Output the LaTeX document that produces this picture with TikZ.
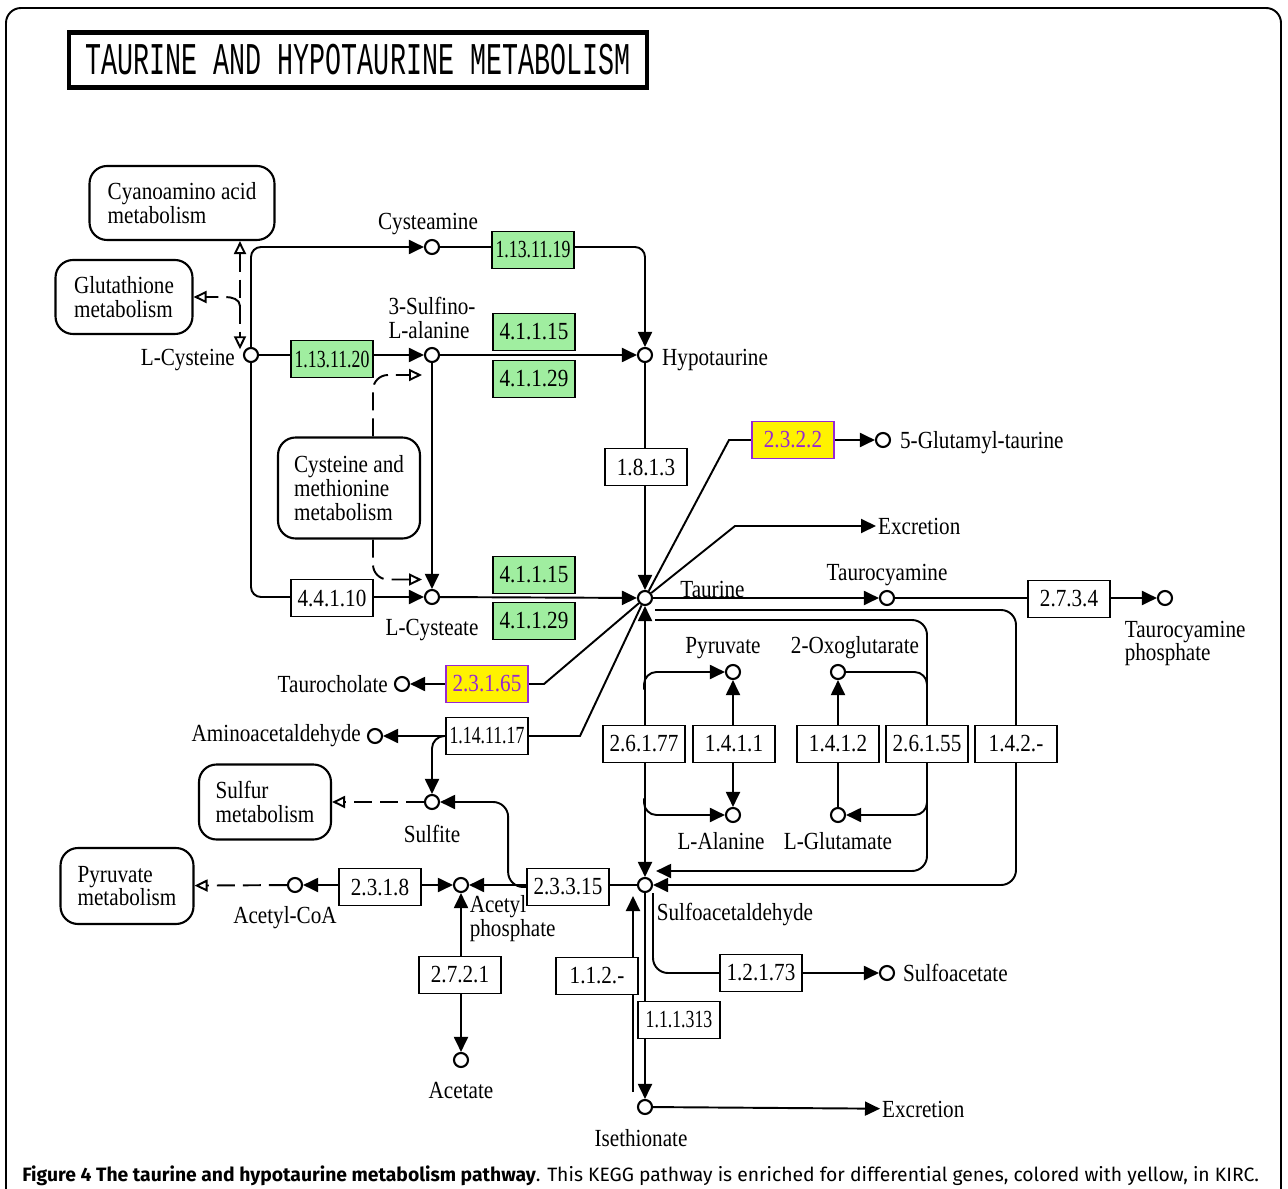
\documentclass[tikz,border=0pt]{standalone}
\usepackage{fontspec}
\setmainfont{Liberation Serif}[FakeStretch=0.86]
\newfontfamily\capfont{Fira Sans}
\newfontfamily\ttlfont{Liberation Mono}
\usetikzlibrary{positioning,arrows.meta}
\pgfdeclarelayer{bg}
\pgfsetlayers{bg,main}
\definecolor{keggreen}{RGB}{160,238,160}
\definecolor{hitpurple}{RGB}{150,40,210}
\newcommand{\ecsq}[1]{\scalebox{0.84}[1]{#1}}

\tikzset{
  otip/.tip={Triangle[open,length=0.26cm,width=0.24cm]},
  >={Triangle[length=0.3cm,width=0.28cm]},
  cpd/.style={circle,draw,line width=1.2pt,fill=white,minimum size=0.28cm,inner sep=0pt},
  enz/.style={draw,line width=1pt,fill=white,minimum width=1.64cm,minimum height=0.74cm,inner sep=0pt,font=\fontsize{14}{14}\selectfont},
  known/.style={enz,fill=keggreen},
  hit/.style={enz,fill=yellow,draw=hitpurple,text=hitpurple},
  pmap/.style={draw,line width=1.2pt,rounded corners=0.35cm,fill=white,align=left,font=\fontsize{14}{13.5}\selectfont},
  lbl/.style={inner sep=1pt,font=\fontsize{14}{13.5}\selectfont},
  rxn/.style={line width=1.1pt},
  mlink/.style={line width=1.1pt,dash pattern=on 0.36cm off 0.16cm,-otip},
}

\begin{document}
\begin{tikzpicture}[x=0.02cm,y=-0.02cm]
  \useasboundingbox (0,0) rectangle (1288,1189);
  % frame and title
  \draw[line width=1.1pt,rounded corners=0.3cm] (6,1189) -- (6,8) -- (1281,8) -- (1281,1189);
  \node[draw,line width=2.4pt,minimum width=11.55cm,minimum height=1.1cm] (title) at (358,60)
    {\scalebox{1}[1.7]{\ttlfont\fontsize{15.2}{16}\selectfont TAURINE AND HYPOTAURINE METABOLISM}};

  % Define compounds
  \node[cpd] (cysm)    at (432,247)  {};
  \node[cpd] (lcys)    at (251,355)  {};
  \node[cpd] (sulf)    at (432,355)  {};
  \node[cpd] (hypo)    at (645,355)  {};
  \node[cpd] (lcya)    at (432,597)  {};
  \node[cpd] (taur)    at (645,598)  {};
  \node[cpd] (glut5)   at (883,440)  {};
  \node[cpd] (tcym)    at (887,598)  {};
  \node[cpd] (tcymp)   at (1165,598) {};
  \node[cpd] (tchol)   at (402,684)  {};
  \node[cpd] (amald)   at (375,736)  {};
  \node[cpd] (sulfite) at (432,802)  {};
  \node[cpd] (pyr)     at (733,672)  {};
  \node[cpd] (oxog)    at (838,672)  {};
  \node[cpd] (ala)     at (733,815)  {};
  \node[cpd] (glu)     at (838,815)  {};
  \node[cpd] (sald)    at (645,885)  {};
  \node[cpd] (acp)     at (461,885)  {};
  \node[cpd] (acoa)    at (295,885)  {};
  \node[cpd] (acet)    at (461,1060) {};
  \node[cpd] (sact)    at (887,973)  {};
  \node[cpd] (iseth)   at (645,1107) {};

  % Define enzymes
  \node[known] (e19)     at (533,250)  {\ecsq{1.13.11.19}};
  \node[known] (e20)     at (332,359)  {\ecsq{1.13.11.20}};
  \node[known] (e15a)    at (534,332)  {4.1.1.15};
  \node[known] (e29a)    at (534,379)  {4.1.1.29};
  \node[enz]   (e813)    at (646,467)  {1.8.1.3};
  \node[hit]   (e2322)   at (793,440)  {2.3.2.2};
  \node[known] (e15b)    at (534,575)  {4.1.1.15};
  \node[known] (e29b)    at (534,621)  {4.1.1.29};
  \node[enz]   (e4410)   at (332,598)  {4.4.1.10};
  \node[hit]   (e23165)  at (487,684)  {2.3.1.65};
  \node[enz]   (e141117) at (487,736)  {\ecsq{1.14.11.17}};
  \node[enz]   (e2734)   at (1069,599) {2.7.3.4};
  \node[enz]   (e26177)  at (644,744)  {2.6.1.77};
  \node[enz]   (e1411)   at (734,744)  {1.4.1.1};
  \node[enz]   (e1412)   at (838,744)  {1.4.1.2};
  \node[enz]   (e26155)  at (927,744)  {2.6.1.55};
  \node[enz]   (e142)    at (1016,744) {1.4.2.-};
  \node[enz]   (e2318)   at (380,887)  {2.3.1.8};
  \node[enz]   (e23315)  at (568,887)  {2.3.3.15};
  \node[enz]   (e2721)   at (460,975)  {2.7.2.1};
  \node[enz]   (e112)    at (597,976)  {1.1.2.-};
  \node[enz]   (e111313) at (679,1020) {\ecsq{1.1.1.313}};
  \node[enz]   (e12173)  at (761,973)  {1.2.1.73};

  % Define maps
  \node[pmap,minimum width=3.7cm,minimum height=1.48cm]  (cyano)   at (182,203) {Cyanoamino acid\\metabolism};
  \node[pmap,minimum width=2.74cm,minimum height=1.48cm] (gsh)     at (124,297) {Glutathione\\metabolism};
  \node[pmap,minimum width=2.84cm,minimum height=2.02cm] (cysmet)  at (349,488) {Cysteine and\\methionine\\metabolism};
  \node[pmap,minimum width=2.64cm,minimum height=1.5cm]  (sulfmet) at (265,802) {Sulfur\\metabolism};
  \node[pmap,minimum width=2.66cm,minimum height=1.52cm] (pyrmet)  at (127,886) {Pyruvate\\metabolism};

  % Define labels
  \node[lbl, above=0.04cm of cysm, xshift=-0.08cm] (cysml) {Cysteamine};
  \node[lbl, left=0.12cm of lcys, yshift=-0.1cm] (lcysl) {L-Cysteine};
  \node[lbl, above=0.12cm of sulf, align=left] (sulfl) {3-Sulfino-\\L-alanine};
  \node[lbl, right=0.14cm of hypo, yshift=-0.1cm] (hypol) {Hypotaurine};
  \node[lbl, below=0.24cm of lcya] (lcyal) {L-Cysteate};
  \node[lbl, above right=-0.16cm and 0.55cm of taur] (taurl) {Taurine};
  \node[lbl, right=0.14cm of glut5, yshift=-0.06cm] (glut5l) {5-Glutamyl-taurine};
  \node[lbl, above=0.04cm of tcym] (tcyml) {Taurocyamine};
  \node[lbl, below right=0.3cm and -0.96cm of tcymp, align=left] (tcympl) {Taurocyamine\\phosphate};
  \node[lbl, left=0.08cm of tchol] (tcholl) {Taurocholate};
  \node[lbl, left=0.08cm of amald] (amaldl) {Aminoacetaldehyde};
  \node[lbl, below=0.26cm of sulfite] (sulfitel) {Sulfite};
  \node[lbl, above=0.06cm of pyr, xshift=-0.2cm] (pyrl) {Pyruvate};
  \node[lbl, above=0.06cm of oxog, xshift=0.34cm] (oxogl) {2-Oxoglutarate};
  \node[lbl, below=0.14cm of ala, xshift=-0.24cm] (alal) {L-Alanine};
  \node[lbl, below=0.14cm of glu] (glul) {L-Glutamate};
  \node[lbl, below right=0.2cm and 0.08cm of sald] (saldl) {Sulfoacetaldehyde};
  \node[lbl, below right=0.06cm and 0.02cm of acp, align=left] (acpl) {Acetyl\\phosphate};
  \node[lbl, below=0.22cm of acoa, xshift=-0.2cm] (acoal) {Acetyl-CoA};
  \node[lbl, below=0.24cm of acet] (acetl) {Acetate};
  \node[lbl, right=0.12cm of sact] (sactl) {Sulfoacetate};
  \node[lbl, below=0.24cm of iseth, xshift=-0.08cm] (isethl) {Isethionate};
  \node[lbl, anchor=west] (excr1) at (876,526) {Excretion};
  \node[lbl, anchor=west] (excr2) at (880,1109) {Excretion};

  % Connect nodes
  \begin{pgfonlayer}{bg}
    \draw[rxn,->,rounded corners=0.2cm] (lcys) |- (cysm);
    \draw[rxn,->,rounded corners=0.2cm] (cysm) -| (hypo);
    \draw[rxn,->] (lcys) -- (sulf);
    \draw[rxn,->] (sulf) -- (hypo);
    \draw[rxn,->] (hypo) -- (taur);
    \draw[rxn,->] (sulf) -- (lcya);
    \draw[rxn,->,rounded corners=0.2cm] (lcys) |- (lcya);
    \draw[rxn,->] (lcya) -- (taur);
    % map links
    \coordinate (mj) at (240,306);
    \draw[mlink,otip-otip] (cyano.south -| mj) -- (mj |- lcys.north west);
    \draw[mlink] (mj) to[out=90,in=0] ([xshift=-0.3cm,yshift=0.18cm]mj) -- (gsh);
    \draw[mlink,rounded corners=0.3cm] ([xshift=0.48cm]cysmet.north) |- ([xshift=-0.2cm,yshift=-0.4cm]sulf.center);
    \draw[mlink,rounded corners=0.3cm] ([xshift=0.48cm]cysmet.south) |- ([xshift=-0.2cm,yshift=0.35cm]lcya.center);
    % taurine
    \draw[rxn] (taur) -- (729,440) -- (e2322);
    \draw[rxn,->] (e2322) -- (glut5);
    \draw[rxn,->] (taur) -- (735,526) -- (excr1);
    \draw[rxn,->] (taur) -- (tcym);
    \draw[rxn,->] (tcym) -- (tcymp);
    \draw[rxn,->] (taur) -- (544,684) -- (tchol);
    \draw[rxn,->] (taur) -- (580,736) -- (amald);
    \draw[rxn,->,rounded corners=0.25cm] ([xshift=-0.08cm]e141117.west) -| (sulfite);
    \draw[mlink] (sulfite) -- (sulfmet);
    \draw[rxn,->,rounded corners=0.3cm] (e23315.west) -- ++(-0.36cm,0) |- (sulfite);
    \draw[rxn,->] (sald) -- (acp);
    \draw[rxn,<->] (acoa) -- (acp);
    \draw[mlink] (acoa) -- (pyrmet);
    \draw[rxn,<->] (acp) -- (acet);
    % transaminases
    \draw[rxn,<->] (taur) -- (sald);
    \draw[rxn,->,rounded corners=0.25cm] ([yshift=0.7cm]e26177.north) |- (pyr);
    \draw[rxn,->,rounded corners=0.25cm] ([yshift=-0.7cm]e26177.south) |- (ala);
    \draw[rxn,<->] (pyr) -- (ala);
    \draw[rxn,->] (glu) -- (oxog);
    \draw[rxn,->,rounded corners=0.3cm] ([xshift=0.2cm,yshift=-0.44cm]taur.center) -| (e26155.center) |- ([xshift=0.06cm,yshift=0.28cm]sald.east);
    \draw[rxn,rounded corners=0.25cm] (oxog) -| ([yshift=0.5cm]e26155.north);
    \draw[rxn,->,rounded corners=0.25cm] ([yshift=-0.6cm]e26155.south) |- (glu);
    \draw[rxn,->,rounded corners=0.3cm] ([xshift=0.2cm,yshift=-0.24cm]taur.center) -| (e142.center) |- (sald);
    % sulfoacetaldehyde
    \draw[rxn,->,rounded corners=0.3cm] ([xshift=0.16cm]sald.south) |- (sact);
    \draw[rxn,->] (sald) -- (iseth);
    \draw[rxn,->] ([xshift=-0.24cm,yshift=0.3cm]iseth.center) -- ([xshift=-0.24cm,yshift=-0.22cm]sald.center);
    \draw[rxn,->] (iseth) -- (excr2);
  \end{pgfonlayer}

  % caption
  \node[anchor=west,inner sep=0pt] (caption) at (22,1176) {\capfont\fontsize{11}{12}\selectfont\textbf{Figure 4 The taurine and hypotaurine metabolism pathway}. This KEGG pathway is enriched for differential genes, colored with yellow, in KIRC.};
\end{tikzpicture}
\end{document}
